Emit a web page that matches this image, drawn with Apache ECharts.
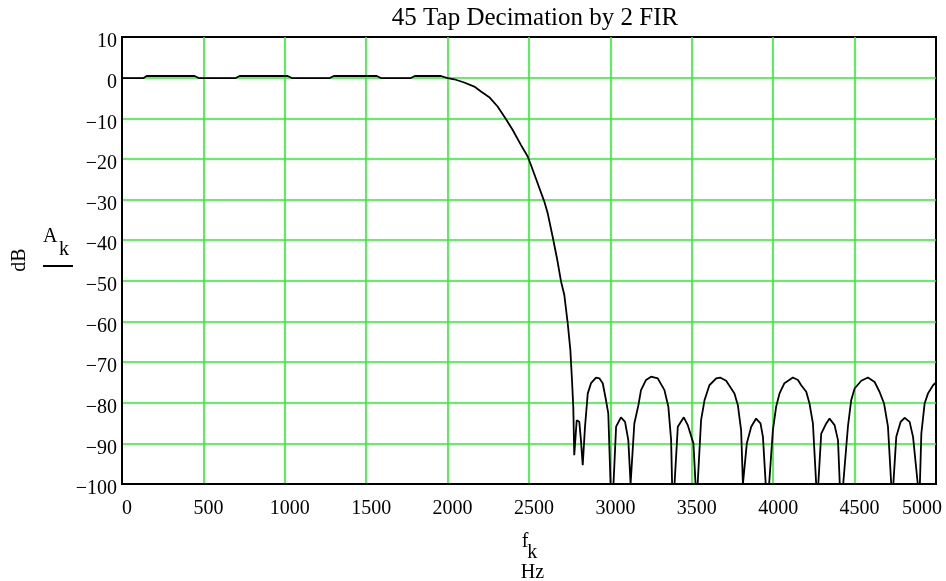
<!DOCTYPE html>
<html>
<head>
<meta charset="utf-8">
<script src="https://cdn.jsdelivr.net/npm/echarts@6/dist/echarts.min.js"></script>
<style>
html,body{margin:0;padding:0;background:#fff;}
#chart{width:946px;height:581px;}
</style>
</head>
<body>
<div id="chart"></div>
<script>
// ---- data ----
const titleText = '45 Tap Decimation by 2 FIR';
const xTicks = [0, 500, 1000, 1500, 2000, 2500, 3000, 3500, 4000, 4500, 5000];
const yTicks = [10, 0, -10, -20, -30, -40, -50, -60, -70, -80, -90, -100];

// frequency f_k in Hz
const freqHz = [
  0, 133, 151, 446, 471, 698, 723, 1018, 1043, 1276, 1301, 1565, 1590, 1774, 1799, 1959,
  2000, 2041, 2102, 2164, 2205, 2256, 2307, 2358, 2400, 2451, 2492, 2512, 2553, 2594, 2615, 2645, 2672,
  2697, 2717, 2738, 2754, 2764, 2772, 2778, 2793, 2809, 2819, 2830, 2844, 2861, 2881, 2912, 2932, 2953,
  2973, 2987, 3001, 3019, 3035, 3065, 3090, 3110, 3124, 3136, 3147, 3172, 3188, 3219, 3250, 3291, 3332,
  3356, 3373, 3379, 3394, 3414, 3451, 3475, 3510, 3523, 3536, 3557, 3578, 3608, 3650, 3674, 3711, 3742,
  3762, 3783, 3803, 3814, 3825, 3838, 3865, 3895, 3922, 3937, 3954, 3975, 3998, 4018, 4039, 4069, 4121,
  4152, 4172, 4203, 4223, 4244, 4264, 4277, 4295, 4326, 4346, 4377, 4398, 4409, 4430, 4459, 4479, 4500,
  4541, 4582, 4623, 4653, 4681, 4705, 4725, 4738, 4756, 4783, 4807, 4838, 4859, 4888, 4901, 4910, 4930,
  4951, 4982, 5000
];
// gain A_k in dB
const gainDb = [
  -0.1, -0.1, 0.4, 0.4, -0.1, -0.1, 0.4, 0.4, -0.1, -0.1, 0.4, 0.4, -0.1, -0.1, 0.4, 0.4,
  -0.1, -0.4, -1.2, -2.2, -3.4, -4.8, -7.1, -10.2, -12.9, -16.6, -19.4, -21.5, -26.0, -30.5, -33.4, -39.1, -44.5,
  -50.2, -53.5, -60.5, -67.0, -74.4, -81.0, -92.9, -84.3, -84.7, -89.2, -95.4, -85.9, -77.7, -75.2, -73.8, -74.0, -75.2,
  -79.4, -82.6, -100, -100, -85.9, -83.6, -84.7, -89.2, -100, -100, -85.1, -80.6, -76.9, -74.4, -73.6, -74.0, -76.9,
  -81.0, -89.2, -100, -100, -85.9, -83.6, -85.5, -90.0, -100, -100, -84.3, -79.4, -75.7, -74.0, -73.8, -74.6, -76.5,
  -77.7, -80.6, -86.8, -100, -100, -90.0, -85.9, -83.9, -85.1, -88.4, -100, -100, -86.8, -81.0, -77.7, -75.2, -73.8,
  -74.4, -75.7, -77.3, -80.2, -85.1, -100, -100, -87.6, -85.1, -83.9, -85.5, -89.2, -100, -100, -85.9, -79.4, -76.5,
  -74.6, -73.8, -74.9, -77.3, -80.2, -85.9, -100, -100, -88.4, -84.7, -83.7, -84.7, -88.4, -100, -100, -87.6, -80.2,
  -77.7, -75.7, -75.0
];

const seriesData = freqHz.map((f, i) => [f, gainDb[i]]);

const FONT = "'Liberation Serif', 'Times New Roman', serif";
const GRID_GREEN = '#2af02a';

const chart = echarts.init(document.getElementById('chart'), null, {renderer: 'canvas'});

const fmtY = v => (v < 0 ? '\u2212' + Math.abs(v) : String(v));

chart.setOption({
  animation: false,
  backgroundColor: '#ffffff',
  grid: {
    left: 122, right: 10, top: 37, bottom: 97,
    show: true, borderColor: '#000', borderWidth: 2, backgroundColor: 'transparent'
  },
  xAxis: {
    type: 'value',
    min: xTicks[0], max: xTicks[xTicks.length - 1], interval: 500,
    axisLine: {show: true, onZero: false, lineStyle: {color: '#000', width: 2}},
    axisTick: {show: false},
    splitLine: {show: true, showMinLine: false, showMaxLine: false, lineStyle: {color: GRID_GREEN, width: 1.6}},
    axisLabel: {
      show: true, showMinLabel: true, showMaxLabel: true,
      margin: 15, color: '#000', fontFamily: FONT, fontSize: 20,
      padding: [0, 0, 0, 10],
      formatter: v => (v === 5000 ? '{m|5000}' : String(v)),
      rich: {m: {fontFamily: FONT, fontSize: 20, color: '#000', padding: [0, 38, 0, 0]}}
    }
  },
  yAxis: {
    type: 'value',
    min: yTicks[yTicks.length - 1], max: yTicks[0], interval: 10,
    axisLine: {show: true, onZero: false, lineStyle: {color: '#000', width: 2}},
    axisTick: {show: false},
    splitLine: {show: true, showMinLine: false, showMaxLine: false, lineStyle: {color: GRID_GREEN, width: 1.6}},
    axisLabel: {
      show: true, showMinLabel: true, showMaxLabel: true,
      margin: 5, color: '#000', fontFamily: FONT, fontSize: 20,
      verticalAlign: 'top', lineHeight: 10,
      formatter: fmtY
    }
  },
  series: [{
    type: 'line',
    data: seriesData,
    showSymbol: false,
    smooth: false,
    clip: true,
    lineStyle: {color: '#000', width: 1.8},
    z: 3
  }],
  graphic: [
    {type: 'text', x: 535, y: 18.3, style: {text: titleText, font: '25px ' + FONT, fill: '#000', textAlign: 'center', textVerticalAlign: 'middle'}},
    {type: 'text', x: 19.5, y: 260, rotation: Math.PI / 2, style: {text: 'dB', font: '20px ' + FONT, fill: '#000', textAlign: 'center', textVerticalAlign: 'middle'}},
    {type: 'text', x: 43, y: 236.6, style: {text: 'A', font: '20px ' + FONT, fill: '#000', textAlign: 'left', textVerticalAlign: 'middle'}},
    {type: 'text', x: 59, y: 250, style: {text: 'k', font: '20px ' + FONT, fill: '#000', textAlign: 'left', textVerticalAlign: 'middle'}},
    {type: 'line', shape: {x1: 43, y1: 266, x2: 73, y2: 266}, style: {stroke: '#000', lineWidth: 2}},
    {type: 'text', x: 521.7, y: 541.5, style: {text: 'f', font: '20px ' + FONT, fill: '#000', textAlign: 'left', textVerticalAlign: 'middle'}},
    {type: 'text', x: 527.3, y: 552.5, style: {text: 'k', font: '20px ' + FONT, fill: '#000', textAlign: 'left', textVerticalAlign: 'middle'}},
    {type: 'text', x: 520.7, y: 573, style: {text: 'Hz', font: '20px ' + FONT, fill: '#000', textAlign: 'left', textVerticalAlign: 'middle'}}
  ]
});
</script>
</body>
</html>
